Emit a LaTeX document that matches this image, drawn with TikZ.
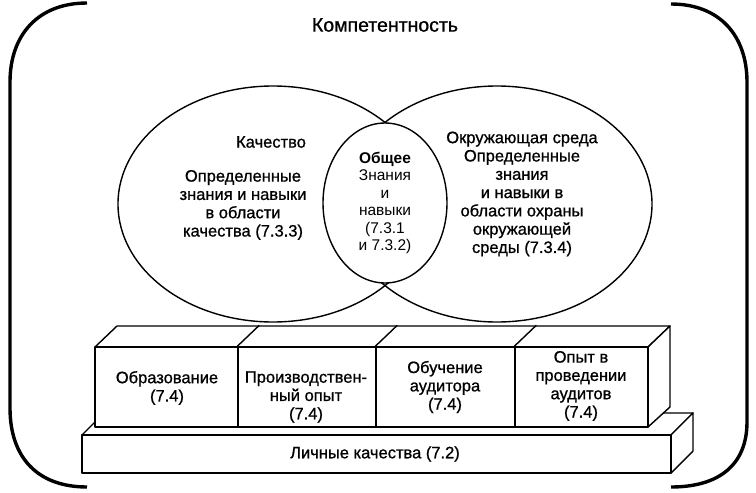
\documentclass[tikz,border=0pt]{standalone}
\usepackage{fontspec}
\setmainfont{Liberation Sans}
\newfontfamily\heavyfont[FakeBold=0.9]{Liberation Sans}
\usetikzlibrary{shapes.geometric}
\begin{document}
\begin{tikzpicture}[x=1pt,y=-1pt,
  bracket/.style={line width=3.4pt},
  thinline/.style={line width=1.4pt},
  face/.style={draw, line width=1.4pt, fill=white, line join=round},
  lbl/.style={align=center, font=\heavyfont\fontsize{16.5}{18.3}\selectfont, inner sep=0pt},
]
\useasboundingbox (0,0) rectangle (756,493);

% brackets
\draw[bracket] (87,3) .. controls (38,3) and (10,35) .. (10,82) -- (10,408)
  .. controls (10,458) and (38,487) .. (87,487);
\draw[bracket] (671,4) .. controls (720,4) and (747,36) .. (747,82) -- (747,422)
  .. controls (747,464) and (720,487) .. (671,487);

% title
\node[font=\heavyfont\fontsize{19.5}{22}\selectfont, inner sep=0pt] (title) at (385,25) {Компетентность};

% ellipses
\node[draw, thinline, ellipse, inner sep=0pt, minimum width=310, minimum height=236] (qual) at (273,204) {};
\node[draw, thinline, ellipse, inner sep=0pt, minimum width=310, minimum height=236] (env) at (497,204) {};
\node[draw, thinline, fill=white, ellipse, inner sep=0pt, minimum width=124, minimum height=160] (common) at (385,203) {};

\node[lbl] (qualtitle) at (271,142) {Качество};
\node[lbl] (qualtext) at (243,205) {Определенные\\знания и навыки\\в области\\качества (7.3.3)};
\node[lbl] (envtext) at (522,194) {Окружающая среда\\Определенные\\знания\\и навыки в\\области охраны\\окружающей\\среды (7.3.4)};
\node[align=center, inner sep=0pt, font=\fontsize{15.5}{17.5}\selectfont] (commontext) at (385,203) {\textbf{Общее}\\Знания\\и\\навыки\\(7.3.1\\и 7.3.2)};

% slab
\draw[face] (82,435) -- (104,413) -- (693,413) -- (671,435) -- cycle;
\draw[face] (671,435) -- (693,413) -- (693,451) -- (671,473) -- cycle;
\node[face, inner sep=0pt, minimum width=589, minimum height=38] (slab) at (376.5,454) {};
\node[lbl] (slabtext) at (375,454) {Личные качества (7.2)};

% boxes
\draw[face] (95,347) -- (117,326) -- (670,326) -- (648,347) -- cycle;
\draw[face] (648,347) -- (670,326) -- (670,407) -- (648,427) -- cycle;
\node[face, inner sep=0pt, minimum width=143, minimum height=80] (b1) at (166.5,387) {};
\node[face, inner sep=0pt, minimum width=138, minimum height=80] (b2) at (307,387) {};
\node[face, inner sep=0pt, minimum width=139, minimum height=80] (b3) at (445.5,387) {};
\node[face, inner sep=0pt, minimum width=133, minimum height=80] (b4) at (581.5,387) {};
\draw[thinline] (b2.north west) -- ++(22,-21);
\draw[thinline] (b3.north west) -- ++(22,-21);
\draw[thinline] (b4.north west) -- ++(22,-21);

\node[lbl] (t1) at (167,388) {Образование\\(7.4)};
\node[lbl] (t2) at (306,397) {Производствен-\\ный опыт\\(7.4)};
\node[lbl] (t3) at (445,387) {Обучение\\аудитора\\(7.4)};
\node[lbl] (t4) at (581,386) {Опыт в\\проведении\\аудитов\\(7.4)};
\end{tikzpicture}
\end{document}
